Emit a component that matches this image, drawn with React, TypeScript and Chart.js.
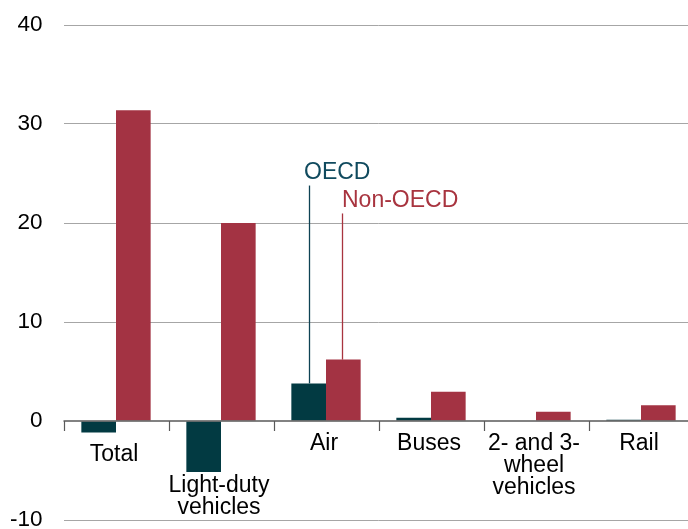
import React, { useEffect, useRef } from "react";
import { Chart, registerables } from "chart.js";

Chart.register(...registerables);

const categories: (string | string[])[] = [
  "Total",
  ["Light-duty", "vehicles"],
  "Air",
  "Buses",
  ["2- and 3-", "wheel", "vehicles"],
  "Rail",
];
const oecdValues = [-1.15, -5.15, 3.8, 0.33, 0.0, 0.13];
const nonOecdValues = [31.4, 20.0, 6.2, 2.95, 0.94, 1.6];
const seriesNames = ["OECD", "Non-OECD"];
const yTicks = [-10, 0, 10, 20, 30, 40];
const labelValues = [24.44, 21.62]; // baselines of the series callouts (y value)

const OECD_COLOR = "#023a42";
const NON_COLOR = "#a33343";
const OECD_TEXT = "#104a5e";
const NON_TEXT = "#a8343f";
const FONT = "Liberation Sans, Arial, sans-serif";

const overlayPlugin = {
  id: "overlay",
  afterDatasetsDraw(chart: any) {
    const ctx = chart.ctx;
    const x = chart.scales.x;
    const y = chart.scales.y;
    const area = chart.chartArea;
    const zero = y.getPixelForValue(0);
    const floor = y.getPixelForValue(yTicks[0]);
    const step = x.getPixelForValue(1) - x.getPixelForValue(0);
    ctx.save();
    // zero line
    ctx.strokeStyle = "#595959";
    ctx.lineWidth = 1.5;
    ctx.beginPath();
    ctx.moveTo(area.left, zero);
    ctx.lineTo(area.right, zero);
    ctx.stroke();
    // tick marks at category boundaries
    ctx.lineWidth = 1.2;
    for (let i = 0; i <= categories.length; i++) {
      const bx = Math.round(x.getPixelForValue(0) - step / 2 + i * step) + 0.5;
      ctx.beginPath();
      ctx.moveTo(bx, zero);
      ctx.lineTo(bx, zero + 10);
      ctx.stroke();
    }
    // category labels, below the lowest bar
    ctx.fillStyle = "#000";
    ctx.font = `23px ${FONT}`;
    ctx.textAlign = "center";
    ctx.textBaseline = "alphabetic";
    const lh = 22;
    categories.forEach((c, i) => {
      const lines = Array.isArray(c) ? c : [c];
      const minV = Math.min(0, oecdValues[i], nonOecdValues[i]);
      const bottom = y.getPixelForValue(minV);
      let base = Math.max(zero, bottom) + 28.5;
      const lastBase = base + (lines.length - 1) * lh;
      const maxLast = floor - 6;
      if (lastBase > maxLast) base -= lastBase - maxLast;
      const cx = x.getPixelForValue(i) - 2;
      lines.forEach((ln, k) => ctx.fillText(ln, cx, base + k * lh));
    });
    // series callouts on the Air bars
    const airIdx = 2;
    const m0 = chart.getDatasetMeta(0).data[airIdx];
    const m1 = chart.getDatasetMeta(1).data[airIdx];
    const callouts = [
      { el: m0, color: OECD_TEXT, line: "#0e4254", text: seriesNames[0], v: labelValues[0], dx: -5.5, lx: 0.5 },
      { el: m1, color: NON_TEXT, line: "#a8343f", text: seriesNames[1], v: labelValues[1], dx: -0.5, lx: -1 },
    ];
    ctx.textAlign = "left";
    callouts.forEach((c) => {
      const ty = y.getPixelForValue(c.v);
      const lx = Math.round(c.el.x + c.lx) + 0.5;
      ctx.fillStyle = c.color;
      ctx.fillText(c.text, lx + c.dx, ty);
      ctx.strokeStyle = c.line;
      ctx.lineWidth = 1.3;
      ctx.beginPath();
      ctx.moveTo(lx, ty + 6.5);
      ctx.lineTo(lx, c.el.y);
      ctx.stroke();
    });
    ctx.restore();
  },
};

export default function App() {
  const ref = useRef<HTMLCanvasElement>(null);
  useEffect(() => {
    if (!ref.current) return;
    const chart = new Chart(ref.current, {
      type: "bar",
      data: {
        labels: categories.map((c) => (Array.isArray(c) ? c.join(" ") : c)),
        datasets: [
          {
            label: seriesNames[0],
            data: oecdValues,
            backgroundColor: OECD_COLOR,
            categoryPercentage: 0.66,
            barPercentage: 1,
          },
          {
            label: seriesNames[1],
            data: nonOecdValues,
            backgroundColor: NON_COLOR,
            categoryPercentage: 0.66,
            barPercentage: 1,
          },
        ],
      },
      options: {
        animation: false,
        responsive: false,
        maintainAspectRatio: false,
        layout: { padding: { top: 25, bottom: 20, left: 0, right: 6.5 } },
        plugins: {
          legend: { display: false },
          tooltip: { enabled: false },
          title: { display: false },
        },
        scales: {
          x: { display: false },
          y: {
            min: yTicks[0],
            max: yTicks[yTicks.length - 1],
            afterBuildTicks: (s: any) => {
              s.ticks = yTicks.map((v) => ({ value: v }));
            },
            afterFit: (s: any) => {
              s.width = 63.5;
            },
            border: { display: false },
            grid: {
              drawTicks: true,
              tickLength: 21,
              tickColor: "rgba(0,0,0,0)",
              color: (c: any) => (c.tick && c.tick.value === 0 ? "rgba(0,0,0,0)" : "#a6a6a6"),
              lineWidth: 1,
            },
            ticks: {
              padding: 0,
              color: "#000",
              font: { family: FONT, size: 22.5 },
            },
          },
        },
      },
      plugins: [overlayPlugin],
    });
    return () => chart.destroy();
  }, []);
  return (
    <div
      style={{
        position: "fixed",
        left: 0,
        top: 0,
        width: 688,
        height: 529,
        overflow: "hidden",
        background: "#fff",
      }}
    >
      <canvas ref={ref} width={700} height={540} style={{ display: "block" }} />
    </div>
  );
}
